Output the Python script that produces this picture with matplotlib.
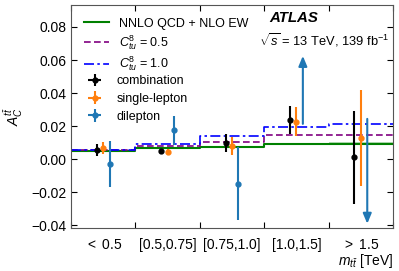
import matplotlib
matplotlib.use("Agg")
import matplotlib.pyplot as plt
import numpy as np

plt.rcParams['font.family'] = ['Liberation Sans', 'DejaVu Sans']
plt.rcParams['mathtext.fontset'] = 'custom'
plt.rcParams['mathtext.rm'] = 'Liberation Sans'
plt.rcParams['mathtext.it'] = 'Liberation Sans:italic'
plt.rcParams['mathtext.bf'] = 'Liberation Sans:bold'

# Data
bin_labels = [r'$<$ 0.5', '[0.5,0.75]', '[0.75,1.0]', '[1.0,1.5]', r'$>$ 1.5']
sm_pred = [0.0050, 0.0068, 0.0076, 0.0094, 0.0094]
sm_unc = [0.0004, 0.0004, 0.0004, 0.0005, 0.0010]
ctu05 = [0.0054, 0.0080, 0.0102, 0.0148, 0.0148]
ctu10 = [0.0058, 0.0090, 0.0138, 0.0194, 0.0214]

comb_val = [0.0056, 0.0048, 0.0100, 0.0240, 0.0012]
comb_err = [0.0036, 0.0015, 0.0055, 0.0085, 0.0282]
sl_val = [0.0070, 0.0045, 0.0078, 0.0228, 0.0130]
sl_err = [0.0037, 0.0016, 0.0055, 0.0087, 0.0290]
dl_val = [-0.0030, 0.0175, -0.0148, np.nan, np.nan]
dl_err = [0.0138, 0.0087, 0.0220, np.nan, np.nan]
# dilepton points outside the range: arrow from..to
dl_arrow_bins = [3, 4]
dl_arrow_from = [0.0214, 0.0244]
dl_arrow_to = [0.0625, -0.0390]

edges = np.arange(6)
centers = edges[:-1] + 0.5

fig = plt.figure(figsize=(3.99, 2.71), dpi=100)
ax = fig.add_axes([0.178, 0.159, 0.807, 0.824])

def steps(vals):
    return np.append(vals, vals[-1])

sm = np.array(sm_pred)
su = np.array(sm_unc)
ax.fill_between(edges, steps(sm - su), steps(sm + su), step='post',
                color='green', alpha=0.3, lw=0)
l1, = ax.step(edges, steps(sm), where='post', color='green', lw=1.5,
              label='NNLO QCD + NLO EW')
l2, = ax.step(edges, steps(ctu05), where='post', color='purple', lw=1.2,
              ls=(0, (4, 2)), label=r'$C^{8}_{tu}$ = 0.5')
l3, = ax.step(edges, steps(ctu10), where='post', color='blue', lw=1.2,
              ls=(0, (6, 2, 1.5, 2)), label=r'$C^{8}_{tu}$ = 1.0')

zero = np.zeros(5)
e1 = ax.errorbar(centers - 0.1, comb_val, yerr=comb_err, xerr=zero, fmt='o',
                 color='black', ms=3.5, lw=1.5, label='combination')
e2 = ax.errorbar(centers, sl_val, yerr=sl_err, xerr=zero, fmt='o',
                 color='#ff7f0e', ms=3.5, lw=1.5, label='single-lepton')
e3 = ax.errorbar(centers + 0.1, dl_val, yerr=dl_err, xerr=zero, fmt='o',
                 color='#1f77b4', ms=3.5, lw=1.5, label='dilepton')
for b, y0, y1 in zip(dl_arrow_bins, dl_arrow_from, dl_arrow_to):
    ax.annotate('', xy=(centers[b] + 0.1, y1), xytext=(centers[b] + 0.1, y0),
                arrowprops=dict(arrowstyle='-|>,head_width=0.25,head_length=0.6',
                                color='#1f77b4', lw=1.5, shrinkA=0, shrinkB=0))

ax.set_xlim(0, 5)
ax.set_ylim(-0.0415, 0.0935)
ax.set_xticks(edges)
ax.set_xticklabels([])
ax.set_xticks(centers, minor=True)
ax.set_xticklabels(bin_labels, minor=True, fontsize=10)
ax.tick_params(axis='x', which='minor', length=0, pad=7)
ax.set_yticks([-0.04, -0.02, 0.0, 0.02, 0.04, 0.06, 0.08])
ax.set_yticklabels(['\u22120.04', '\u22120.02', '0.00', '0.02', '0.04', '0.06', '0.08'])
ax.tick_params(which='major', direction='in', top=True, right=True,
               length=4, labelsize=10)
for s in ax.spines.values():
    s.set_color('#555555')

ax.set_ylabel(r'$A_C^{t\bar{t}}$', fontsize=10)
ax.set_xlabel(r'$m_{t\bar{t}}$ [TeV]', fontsize=10, loc='right', labelpad=0)

leg1 = ax.legend(handles=[l1, l2, l3], loc='upper left', frameon=False,
                 fontsize=9, handlelength=2.0, labelspacing=0.25,
                 borderaxespad=0.65, handletextpad=0.75)
ax.add_artist(leg1)
ax.legend(handles=[e1, e2, e3], loc='upper left', bbox_to_anchor=(0.019, 0.706),
          frameon=False, fontsize=9, handlelength=2.0, labelspacing=0.46,
          borderaxespad=0, handletextpad=0.75)
ax.text(0.617, 0.922, 'ATLAS', transform=ax.transAxes, fontsize=10.8,
        fontweight='bold', style='italic')
ax.text(0.585, 0.815, r'$\sqrt{s}$ = 13 TeV, 139 fb$^{-1}$',
        transform=ax.transAxes, fontsize=9.3)

fig.savefig('out.png', dpi=100)
